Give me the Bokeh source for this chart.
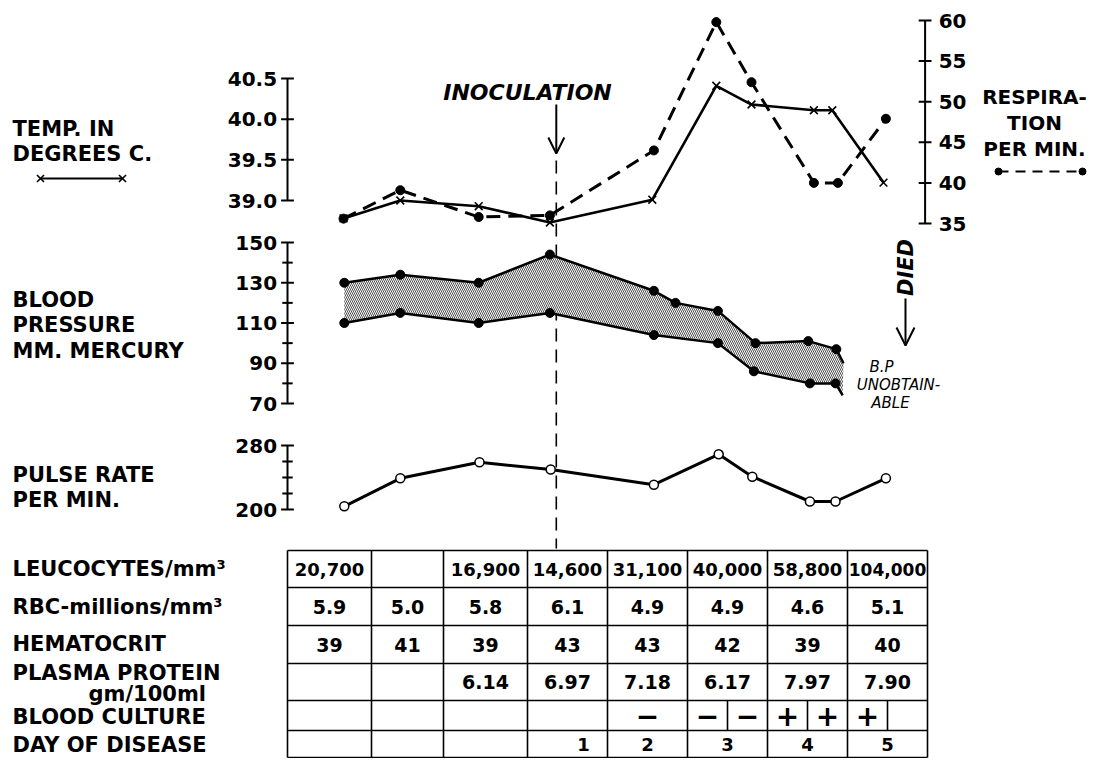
import math
from bokeh.plotting import figure
from bokeh.models import Range1d, Arrow, OpenHead
from bokeh.embed import file_html
from bokeh.resources import INLINE
from bokeh.core.properties import value

# ---------------- data (x in "table column" units, 0 = first column edge) ----------------
temp_x = [0.70, 1.41, 2.39, 3.28, 4.56, 5.36, 5.80, 6.58, 6.81, 7.45]
temp_c = [38.78, 39.0, 38.93, 38.73, 39.01, 40.41, 40.18, 40.11, 40.11, 39.22]

resp_x = [0.70, 1.41, 2.39, 3.28, 4.58, 5.36, 5.80, 6.58, 6.88, 7.48]
resp_min = [35.6, 39.1, 35.8, 36.0, 44.0, 59.8, 52.4, 40.0, 40.0, 47.9]

bp_sys_x = [0.71, 1.41, 2.39, 3.28, 4.58, 4.85, 5.38, 5.85, 6.51, 6.86]
bp_sys = [130, 134, 130, 144, 126, 120, 116, 100, 101, 97]
bp_dia_x = [0.71, 1.41, 2.39, 3.28, 4.58, 5.38, 5.83, 6.53, 6.85]
bp_dia = [110, 115, 110, 115, 104, 100, 86, 80, 80]
bp_tail_x = [6.95, 6.94]      # systolic, diastolic "unobtainable" tails
bp_tail = [90, 74]

pulse_x = [0.71, 1.41, 2.40, 3.29, 4.58, 5.39, 5.81, 6.53, 6.85, 7.48]
pulse = [204, 239, 259, 250, 231, 269, 241, 210, 210, 239]

inoculation_x = 3.36

temp_ticks = [39.0, 39.5, 40.0, 40.5]
resp_ticks = [35, 40, 45, 50, 55, 60]
bp_ticks = [70, 90, 110, 130, 150]
bp_minor = [80, 100, 120, 140]
pulse_ticks = [200, 280]
pulse_minor = [220, 240, 260]

col_edges = [0, 1.05, 1.95, 3.0, 4.0, 5.0, 6.0, 7.0, 8.0]
leucocytes = ["20,700", "", "16,900", "14,600", "31,100", "40,000", "58,800", "104,000"]
rbc = ["5.9", "5.0", "5.8", "6.1", "4.9", "4.9", "4.6", "5.1"]
hematocrit = ["39", "41", "39", "43", "43", "42", "39", "40"]
plasma_protein = ["", "", "6.14", "6.97", "7.18", "6.17", "7.97", "7.90"]
culture_x = [4.5, 5.25, 5.75, 6.25, 6.75, 7.25]
culture = ["\u2212", "\u2212", "\u2212", "+", "+", "+"]
culture_split = [5.5, 6.5, 7.5]
day_x = [3.7, 4.5, 5.5, 6.5, 7.5]
days = ["1", "2", "3", "4", "5"]

# ---------------- layout ----------------
W, H = 1088, 758
TOP, BOT = 0, 758          # picture y of the figure top / bottom
LEFT, RIGHT = 0, 1088
X0, XU = 287, 80.0         # picture x of column 0 and px per column

def yrange(v1, p1, v2, p2):
    s = (p1 - p2) / (v2 - v1)
    return Range1d(start=v1 - (BOT - p1) / s, end=v1 + (p1 - TOP) / s)

p = figure(width=W, height=H, output_backend="svg", toolbar_location=None,
           x_range=Range1d(LEFT, RIGHT), y_range=Range1d(BOT, TOP),
           x_axis_type=None, y_axis_type=None, min_border=0,
           outline_line_color=None, background_fill_color="white")
p.grid.visible = False
p.extra_x_ranges = {"col": Range1d(start=(LEFT - X0) / XU, end=(RIGHT - X0) / XU)}
p.extra_y_ranges = {
    "temp": yrange(39.0, 200, 40.5, 78),
    "resp": yrange(35, 223, 60, 20),
    "bp": yrange(70, 403, 150, 242),
    "pulse": yrange(200, 509, 280, 445),
}

FONT = value("DejaVu Sans")
K = "black"

def txt(x, y, t, size=21, align="left", style="bold", xr="default", yr="default", angle=0):
    fs = [f"{s}px" for s in size] if isinstance(size, list) else f"{size}px"
    p.text(x=x, y=y, text=t, text_font=FONT, text_font_size=fs,
           text_font_style=style, text_align=align, text_baseline="middle",
           text_color=K, angle=angle, x_range_name=xr, y_range_name=yr)

# ---------------- axes drawn on data ranges ----------------
def vaxis(xpos, yr, ticks, minor, labels_side, lab_fmt):
    p.segment(x0=[xpos], y0=[min(ticks)], x1=[xpos], y1=[max(ticks)], line_color=K,
              line_width=2, x_range_name="col", y_range_name=yr)
    p.segment(x0=[xpos - 0.08] * len(ticks), y0=ticks, x1=[xpos + 0.08] * len(ticks), y1=ticks,
              line_color=K, line_width=2, x_range_name="col", y_range_name=yr)
    if minor:
        p.segment(x0=[xpos - 0.065] * len(minor), y0=minor, x1=[xpos + 0.065] * len(minor), y1=minor,
                  line_color=K, line_width=2, x_range_name="col", y_range_name=yr)
    if labels_side == "left":
        txt([xpos - 0.13] * len(ticks), ticks, [lab_fmt(t) for t in ticks], size=20,
            align="right", xr="col", yr=yr)
    else:
        txt([xpos + 0.17] * len(ticks), ticks, [lab_fmt(t) for t in ticks], size=20,
            align="left", xr="col", yr=yr)

vaxis(0.0, "temp", temp_ticks, None, "left", lambda t: f"{t:.1f}")
vaxis(7.97, "resp", resp_ticks, None, "right", lambda t: f"{t}")
vaxis(0.0, "bp", bp_ticks, bp_minor, "left", lambda t: f"{t}")
vaxis(0.0, "pulse", pulse_ticks, pulse_minor, "left", lambda t: f"{t}")

# ---------------- inoculation marker ----------------
p.segment(x0=[inoculation_x], y0=[160], x1=[inoculation_x], y1=[548], line_color=K,
          line_width=1.6, line_dash="13 8", x_range_name="col")
p.add_layout(Arrow(x_start=inoculation_x, y_start=104, x_end=inoculation_x, y_end=153,
                   x_range_name="col", line_width=2, line_color=K,
                   end=OpenHead(size=16, line_width=2, line_color=K)))
txt([527], [92], ["INOCULATION"], size=22, align="center", style="bold italic")

# ---------------- temperature & respiration ----------------
p.line(resp_x, resp_min, line_color=K, line_width=3, line_dash="14 8",
       x_range_name="col", y_range_name="resp")
p.scatter(resp_x, resp_min, size=9, marker="circle", fill_color=K, line_color=K,
          x_range_name="col", y_range_name="resp")
p.line(temp_x, temp_c, line_color=K, line_width=2.6, x_range_name="col", y_range_name="temp")
p.scatter(temp_x, temp_c, size=11, marker="x", line_color=K, line_width=1.6,
          x_range_name="col", y_range_name="temp")

# ---------------- blood pressure ----------------
poly_x = bp_sys_x + bp_tail_x + bp_dia_x[::-1]
poly_y = bp_sys + bp_tail + bp_dia[::-1]
p.patch(poly_x, poly_y, fill_color="white", line_color=None,
        hatch_pattern="left_diagonal_line", hatch_scale=4, hatch_weight=0.9,
        hatch_color="#3a3a3a", x_range_name="col", y_range_name="bp")
p.line(bp_sys_x + bp_tail_x[:1], bp_sys + bp_tail[:1], line_color=K, line_width=2.5,
       x_range_name="col", y_range_name="bp")
p.line(bp_dia_x + bp_tail_x[1:], bp_dia + bp_tail[1:], line_color=K, line_width=2.5,
       x_range_name="col", y_range_name="bp")
p.scatter(bp_sys_x, bp_sys, size=9, fill_color=K, line_color=K, x_range_name="col", y_range_name="bp")
p.scatter(bp_dia_x, bp_dia, size=9, fill_color=K, line_color=K, x_range_name="col", y_range_name="bp")

# ---------------- pulse ----------------
p.line(pulse_x, pulse, line_color=K, line_width=3, x_range_name="col", y_range_name="pulse")
p.scatter(pulse_x, pulse, size=9, fill_color="white", line_color=K, line_width=1.5,
          x_range_name="col", y_range_name="pulse")

# ---------------- left labels ----------------
txt([12, 12], [128, 153], ["TEMP. IN", "DEGREES C."])
p.line([40, 122], [178, 178], line_color=K, line_width=2.2)
p.scatter([40, 122], [178, 178], marker="x", size=10, line_color=K, line_width=1.6)
txt([12, 12, 12], [299, 324, 350], ["BLOOD", "PRESSURE", "MM. MERCURY"])
txt([12, 12], [474, 499], ["PULSE RATE", "PER MIN."])

# ---------------- right labels ----------------
txt([1034, 1034, 1034], [96, 122, 148], ["RESPIRA-", "TION", "PER MIN."], size=20, align="center")
p.line([998, 1082], [171, 171], line_color=K, line_width=2.2, line_dash="10 7")
p.scatter([998, 1082], [171, 171], size=7, fill_color=K, line_color=K)

txt([905], [267], ["DIED"], size=21, align="center", style="bold italic", angle=math.pi / 2)
p.add_layout(Arrow(x_start=905, y_start=298, x_end=905, y_end=345, line_width=2, line_color=K,
                   end=OpenHead(size=18, line_width=2, line_color=K)))
txt([881, 898, 890], [366, 384, 402], ["B.P", "UNOBTAIN-", "ABLE"], size=15, align="center",
    style="italic")

# ---------------- table ----------------
row_edges = [550, 587, 625, 663, 700, 730, 757]
ncol = len(col_edges)
p.segment(x0=[col_edges[0]] * len(row_edges), y0=row_edges, x1=[col_edges[-1]] * len(row_edges),
          y1=row_edges, line_color=K, line_width=1.6, x_range_name="col")
p.segment(x0=col_edges, y0=[row_edges[0]] * ncol, x1=col_edges, y1=[row_edges[-1]] * ncol,
          line_color=K, line_width=1.6, x_range_name="col")
p.segment(x0=culture_split, y0=[row_edges[4]] * 3, x1=culture_split, y1=[row_edges[5]] * 3,
          line_color=K, line_width=1.6, x_range_name="col")

centers = [(col_edges[i] + col_edges[i + 1]) / 2 for i in range(ncol - 1)]
row_mid = [(row_edges[i] + row_edges[i + 1]) / 2 for i in range(len(row_edges) - 1)]
leuco_sizes = [17 if len(v) > 6 else 18 for v in leucocytes]
txt(centers, [row_mid[0]] * len(centers), leucocytes, size=leuco_sizes, align="center", xr="col")
for r, vals in enumerate([rbc, hematocrit, plasma_protein], start=1):
    txt(centers, [row_mid[r]] * len(centers), vals, size=19, align="center", xr="col")
txt(culture_x, [row_mid[4]] * len(culture_x), culture, size=28, align="center", xr="col")
txt(day_x, [row_mid[5]] * len(day_x), days, size=18, align="center", xr="col")

txt([12, 12, 12, 12, 12], [568, 606, 643, 672, 716],
    ["LEUCOCYTES/mm\u00b3", "RBC-millions/mm\u00b3", "HEMATOCRIT", "PLASMA PROTEIN", "BLOOD CULTURE"])
txt([88], [693], ["gm/100ml"])
txt([12], [744], ["DAY OF DISEASE"])

open("out.html", "w").write(file_html(p, INLINE, title="Clinical course chart"))
